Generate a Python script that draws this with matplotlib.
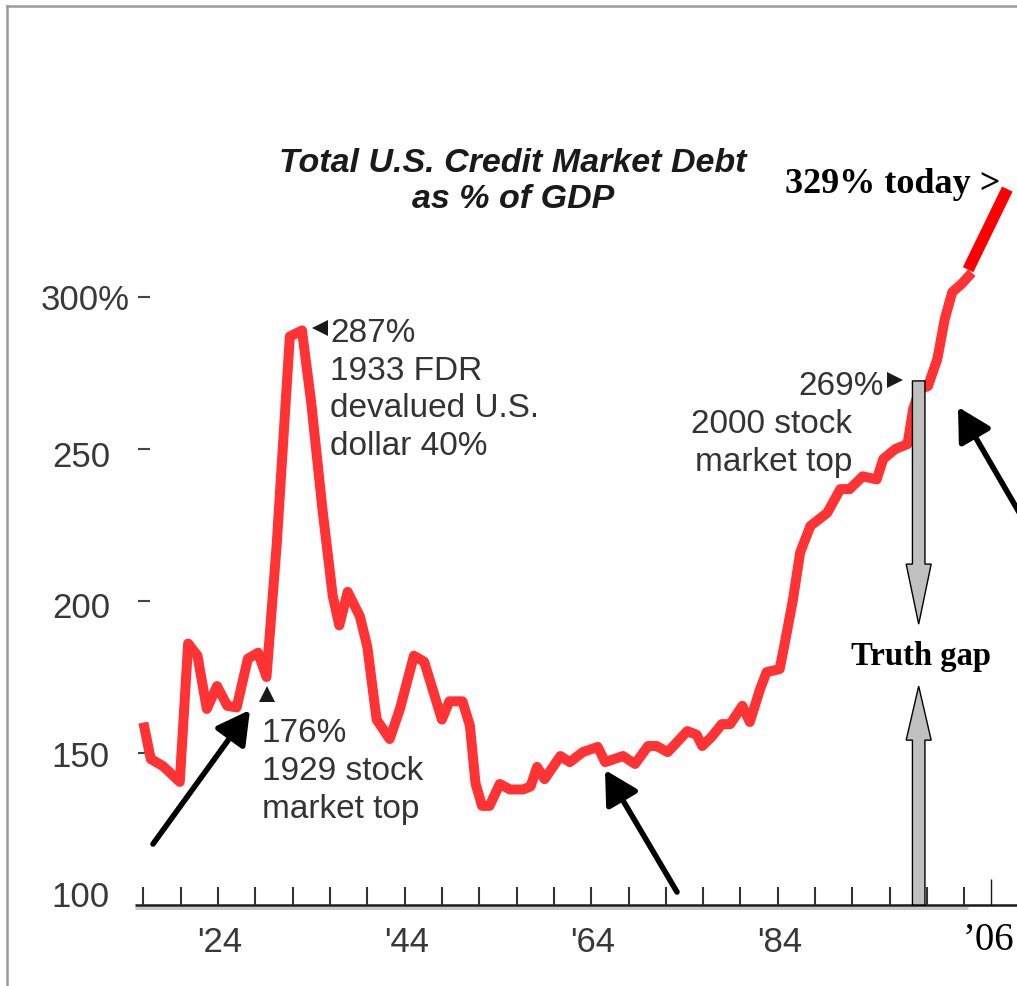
import matplotlib
matplotlib.use("Agg")
import matplotlib.pyplot as plt
from matplotlib.patches import FancyArrow, FancyArrowPatch
from matplotlib.lines import Line2D
import matplotlib.transforms as mtransforms

# ---------------- data ----------------
years = [1916.0, 1916.8, 1918.1, 1919.9, 1920.8, 1921.8, 1922.8, 1923.9, 1925.0, 1926.0,
         1927.2, 1928.3, 1929.2, 1930.3, 1931.7, 1933.0, 1934.0, 1935.2, 1936.3, 1937.0,
         1937.9, 1939.2, 1940.0, 1941.0, 1942.4, 1943.5, 1945.0, 1946.1, 1948.0, 1948.8,
         1950.2, 1951.0, 1951.6, 1952.3, 1953.1, 1954.2, 1955.3, 1956.7, 1957.5, 1958.2,
         1959.0, 1960.7, 1961.7, 1963.1, 1964.7, 1965.5, 1967.4, 1968.7, 1970.1, 1971.0,
         1972.2, 1974.3, 1975.3, 1975.9, 1976.9, 1978.0, 1978.9, 1980.2, 1981.0, 1982.1,
         1982.8, 1984.2, 1984.8, 1985.6, 1986.4, 1987.5, 1989.3, 1990.7, 1991.7, 1993.1,
         1994.6, 1995.3, 1996.6, 1997.9, 1998.5, 1999.2, 2000.1, 2001.1, 2001.9, 2002.7,
         2003.7, 2004.8]
debt_pct = [160, 148, 145.7, 140.5, 186, 182, 164.5, 172, 165.5, 165,
            181, 183, 175, 219, 287, 289, 265, 230, 201.6, 192,
            203, 195, 185, 161, 154.6, 164.5, 182, 180, 161, 167,
            167, 159, 140, 132.6, 132.6, 139.8, 138, 138, 139, 145.4,
            141.4, 149, 147, 150.3, 152, 147, 149, 146.4, 152.3, 152.3,
            150.3, 157.2, 156, 152.3, 155.3, 159.5, 159.5, 165.5, 160.2, 171,
            176.6, 177.6, 187, 200, 216, 224.7, 229, 236.8, 236.8, 241,
            240, 246.7, 250, 251.6, 263, 269.7, 270.7, 279.6, 292.8, 301.6,
            304.3, 308]
recent_years = [2004.4, 2008.6]
recent_pct = [309, 335.5]

xtick_years = [1916, 1920, 1924, 1928, 1932, 1936, 1940, 1944, 1948, 1952, 1956, 1960,
               1964, 1968, 1972, 1976, 1980, 1984, 1988, 1992, 1996, 2000, 2004]
xlabel_years = [1924, 1944, 1964, 1984]
xlabel_texts = ["'24", "'44", "'64", "'84"]
extra_tick_year = 2006.8
extra_tick_label = "\u201906"
ytick_values = [300, 250, 200, 150]
ytick_labels = ["300%", "250", "200", "150", "100"]

gap_year = 1999.1
gap_upper_from, gap_upper_to = 272.4, 192.4
gap_lower_from, gap_lower_to = 100, 172

# ---------------- figure / scales ----------------
W, H = 1017, 987
fig = plt.figure(figsize=(W / 100, H / 100), dpi=100)
fig.patch.set_facecolor("white")
ax = fig.add_axes([0, 0, 1, 1])
X0_PX, X0_YEAR, PX_PER_YEAR = 218, 1924, 9.33
Y0_PX, Y0_VAL, PX_PER_UNIT = 906, 100, 3.04
ax.set_xlim(X0_YEAR - X0_PX / PX_PER_YEAR, X0_YEAR + (W - X0_PX) / PX_PER_YEAR)
ax.set_ylim(Y0_VAL - (H - Y0_PX) / PX_PER_UNIT, Y0_VAL + Y0_PX / PX_PER_UNIT)
ax.axis("off")


def px2year(x):
    return X0_YEAR + (x - X0_PX) / PX_PER_YEAR


def P(x, y):
    return (x / W, 1 - y / H)


SANS = "Liberation Sans"
SERIF = "Liberation Serif"
TXT = "#333333"

# frame
fig.add_artist(Line2D([7 / W, 7 / W], [0, 1 - 7 / H], color="#9a9a9a", lw=1.8, transform=fig.transFigure))
fig.add_artist(Line2D([7 / W, 1], [1 - 7 / H, 1 - 7 / H], color="#9a9a9a", lw=1.8, transform=fig.transFigure))

# baseline axis
ax.hlines(100 - 3 / PX_PER_UNIT, px2year(135), px2year(968), color="#c8c8c8", lw=2.2, zorder=1)
ax.hlines(100, px2year(135), px2year(1017), color="#1a1a1a", lw=1.8, zorder=2)
ax.vlines(xtick_years, 100, 100 + 18 / PX_PER_UNIT, color="#333333", lw=1.5, zorder=2)
ax.vlines([extra_tick_year], 100, 100 + 26 / PX_PER_UNIT, color="#1a1a1a", lw=1.0, zorder=2)

# y tick dashes and labels
ax.hlines(ytick_values, px2year(138), px2year(150), color="#444444", lw=1.5, zorder=2)
ylab_pos = [(130, 310), (110, 467), (110, 618), (110, 767), (110, 907)]
for lab, (x, y) in zip(ytick_labels, ylab_pos):
    fig.text(*P(x, y), lab, ha="right", va="baseline", fontsize=25, family=SANS, color="#383838")

# x tick labels
bt = mtransforms.blended_transform_factory(ax.transData, fig.transFigure)
for yr, lab in zip(xlabel_years, xlabel_texts):
    ax.text(yr + 0.2, 1 - 952 / H, lab, transform=bt, ha="center", va="baseline",
            fontsize=25, family=SANS, color="#383838")
fig.text(*P(963, 950), extra_tick_label, ha="left", va="baseline", fontsize=28, family=SERIF, color="black")

# data lines
ax.plot(years, debt_pct, color="#ff3333", lw=7.2, solid_joinstyle="round", solid_capstyle="butt", zorder=4)
ax.plot(recent_years, recent_pct, color="#ff0000", lw=8.4, solid_capstyle="butt", zorder=4)

# title
fig.text(*P(513, 172), "Total U.S. Credit Market Debt", ha="center", va="baseline", fontsize=24.5,
         family=SANS, weight="bold", style="italic", color="#1a1a1a")
fig.text(*P(513, 208), "as % of GDP", ha="center", va="baseline", fontsize=24.5,
         family=SANS, weight="bold", style="italic", color="#1a1a1a")

# annotations
def lines(x, ys, texts, ha):
    for y, t in zip(ys, texts):
        fig.text(*P(x, y), t, ha=ha, va="baseline", fontsize=24, family=SANS, color=TXT)

lines(330, [342, 380, 417, 455], ["287%", "1933 FDR", "devalued U.S.", "dollar 40%"], "left")
lines(262, [742, 780, 818], ["176%", "1929 stock", "market top"], "left")
lines(884, [395], ["269%"], "right")
lines(852, [433, 471], ["2000 stock", "market top"], "right")

for (x, y, m) in [(320, 329, "<"), (895, 381, ">"), (267, 695, "^")]:
    fig.add_artist(Line2D([x / W], [1 - y / H], marker=m, markersize=11, color="#1a1a1a",
                          markeredgewidth=0, transform=fig.transFigure))

fig.text(*P(785, 193), "329% today >", ha="left", va="baseline", fontsize=26, family=SERIF,
         weight="bold", color="black")
fig.text(*P(921, 665), "Truth gap", ha="center", va="baseline", fontsize=23.5, family=SERIF,
         weight="bold", color="black")

# truth gap arrows
bar_w = 12.5 / PX_PER_YEAR
head_w = 25 / PX_PER_YEAR
ax.add_patch(FancyArrow(gap_year, gap_upper_from, 0, gap_upper_to - gap_upper_from, width=bar_w,
                        head_width=head_w, head_length=60 / PX_PER_UNIT, length_includes_head=True,
                        facecolor="#c0c0c0", edgecolor="black", lw=1.0, zorder=5))
ax.add_patch(FancyArrow(gap_year, gap_lower_from, 0, gap_lower_to - gap_lower_from, width=bar_w,
                        head_width=head_w, head_length=54 / PX_PER_UNIT, length_includes_head=True,
                        facecolor="#c0c0c0", edgecolor="black", lw=1.0, zorder=5))

# black pointer arrows
for (tail, tip) in [((153, 845), (250, 711)), ((677, 893), (605, 771)), ((1045, 558), (958, 408))]:
    fig.add_artist(FancyArrowPatch(P(*tail), P(*tip), transform=fig.transFigure,
                                   arrowstyle="-|>,head_length=1.0,head_width=0.55", mutation_scale=20,
                                   color="black", lw=4.0, shrinkA=0, shrinkB=0))

fig.savefig("out.png", dpi=100, facecolor="white")
